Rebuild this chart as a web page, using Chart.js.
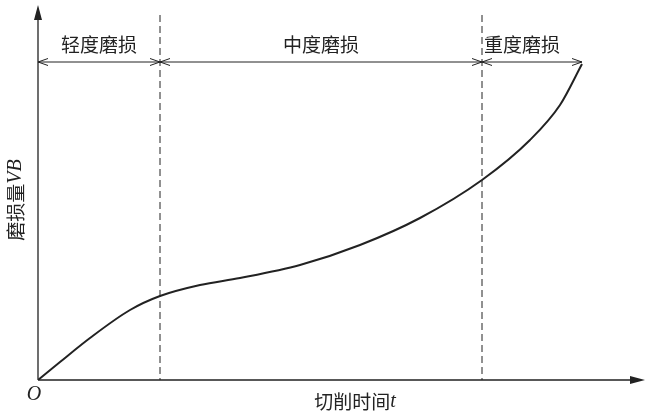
<!DOCTYPE html>
<html><head><meta charset="utf-8">
<script src="https://cdn.jsdelivr.net/npm/chart.js@4"></script>
<style>html,body{margin:0;padding:0;background:#fff}</style>
</head><body>
<canvas id="c" width="657" height="419"></canvas>
<script>
const timeX = [0, 22, 52, 92, 122, 162, 202, 262, 322, 382, 444, 492, 522, 544];
const wearY = [0, 18, 42, 70, 84, 95, 102, 115, 135, 162, 200, 240, 275, 316];
const stageBounds = [0, 122, 444, 544];
const stageLabels = ['轻度磨损', '中度磨损', '重度磨损'];
const xTitle = '切削时间';
const yTitle = '磨损量';

const deco = {
  id: 'deco',
  afterDraw(chart) {
    const ctx = chart.ctx, xs = chart.scales.x, ys = chart.scales.y;
    const ox = xs.getPixelForValue(0), oy = ys.getPixelForValue(0);
    ctx.save();
    ctx.strokeStyle = '#222'; ctx.fillStyle = '#222'; ctx.lineWidth = 1.3;
    // axes
    ctx.beginPath(); ctx.moveTo(ox, oy); ctx.lineTo(640, oy); ctx.moveTo(ox, oy); ctx.lineTo(ox, 10); ctx.stroke();
    ctx.beginPath(); ctx.moveTo(645, oy); ctx.lineTo(630, oy - 4); ctx.lineTo(630, oy + 4); ctx.closePath(); ctx.fill();
    ctx.beginPath(); ctx.moveTo(ox, 5); ctx.lineTo(ox - 4, 20); ctx.lineTo(ox + 4, 20); ctx.closePath(); ctx.fill();
    // dashed lines
    ctx.setLineDash([7, 4]); ctx.lineWidth = 1;
    [stageBounds[1], stageBounds[2]].forEach(v => {
      const px = xs.getPixelForValue(v);
      ctx.beginPath(); ctx.moveTo(px, 15); ctx.lineTo(px, oy); ctx.stroke();
    });
    ctx.setLineDash([]);
    // stage arrows
    const ay = 62;
    for (let i = 0; i < 3; i++) {
      const a = xs.getPixelForValue(stageBounds[i]), b = xs.getPixelForValue(stageBounds[i + 1]);
      ctx.beginPath(); ctx.moveTo(a, ay); ctx.lineTo(b, ay); ctx.stroke();
      [[a, 1], [b, -1]].forEach(([p, d]) => {
        ctx.beginPath(); ctx.moveTo(p + d * 10, ay - 3.5); ctx.lineTo(p, ay); ctx.lineTo(p + d * 10, ay + 3.5); ctx.stroke();
      });
      ctx.font = '19px "Noto Sans CJK SC"'; ctx.textAlign = 'center'; ctx.textBaseline = 'middle';
      ctx.fillText(stageLabels[i], (a + b) / 2 + (i === 2 ? -10 : 0), 45);
    }
    // O
    ctx.font = 'italic 20px "Liberation Serif"'; ctx.fillText('O', 34, 395);
    // x title
    ctx.font = '19px "Noto Sans CJK SC"';
    const w1 = ctx.measureText(xTitle).width;
    ctx.font = 'italic 20px "Liberation Serif"';
    const w2 = ctx.measureText('t').width;
    let sx = 355 - (w1 + w2) / 2;
    ctx.textAlign = 'left';
    ctx.font = '19px "Noto Sans CJK SC"'; ctx.fillText(xTitle, sx, 402);
    ctx.font = 'italic 20px "Liberation Serif"'; ctx.fillText('t', sx + w1, 402);
    // y title
    ctx.translate(16, 200); ctx.rotate(-Math.PI / 2);
    ctx.font = '19px "Noto Sans CJK SC"';
    const v1 = ctx.measureText(yTitle).width;
    ctx.font = 'italic 20px "Liberation Serif"';
    const v2 = ctx.measureText('VB').width;
    let sy = -(v1 + v2) / 2;
    ctx.font = '19px "Noto Sans CJK SC"'; ctx.fillText(yTitle, sy, 0);
    ctx.font = 'italic 20px "Liberation Serif"'; ctx.fillText('VB', sy + v1, 0);
    ctx.restore();
  }
};

new Chart(document.getElementById('c'), {
  type: 'line',
  data: { datasets: [{
    data: timeX.map((x, i) => ({ x, y: wearY[i] })),
    borderColor: '#222', borderWidth: 2, pointRadius: 0, cubicInterpolationMode: 'monotone', fill: false
  }] },
  options: {
    responsive: false, animation: false,
    layout: { padding: { left: 38, right: 17, top: 10, bottom: 39 } },
    plugins: { legend: { display: false }, tooltip: { enabled: false } },
    scales: {
      x: { type: 'linear', min: 0, max: 602, display: false },
      y: { type: 'linear', min: 0, max: 370, display: false }
    }
  },
  plugins: [deco]
});
</script>
</body></html>
